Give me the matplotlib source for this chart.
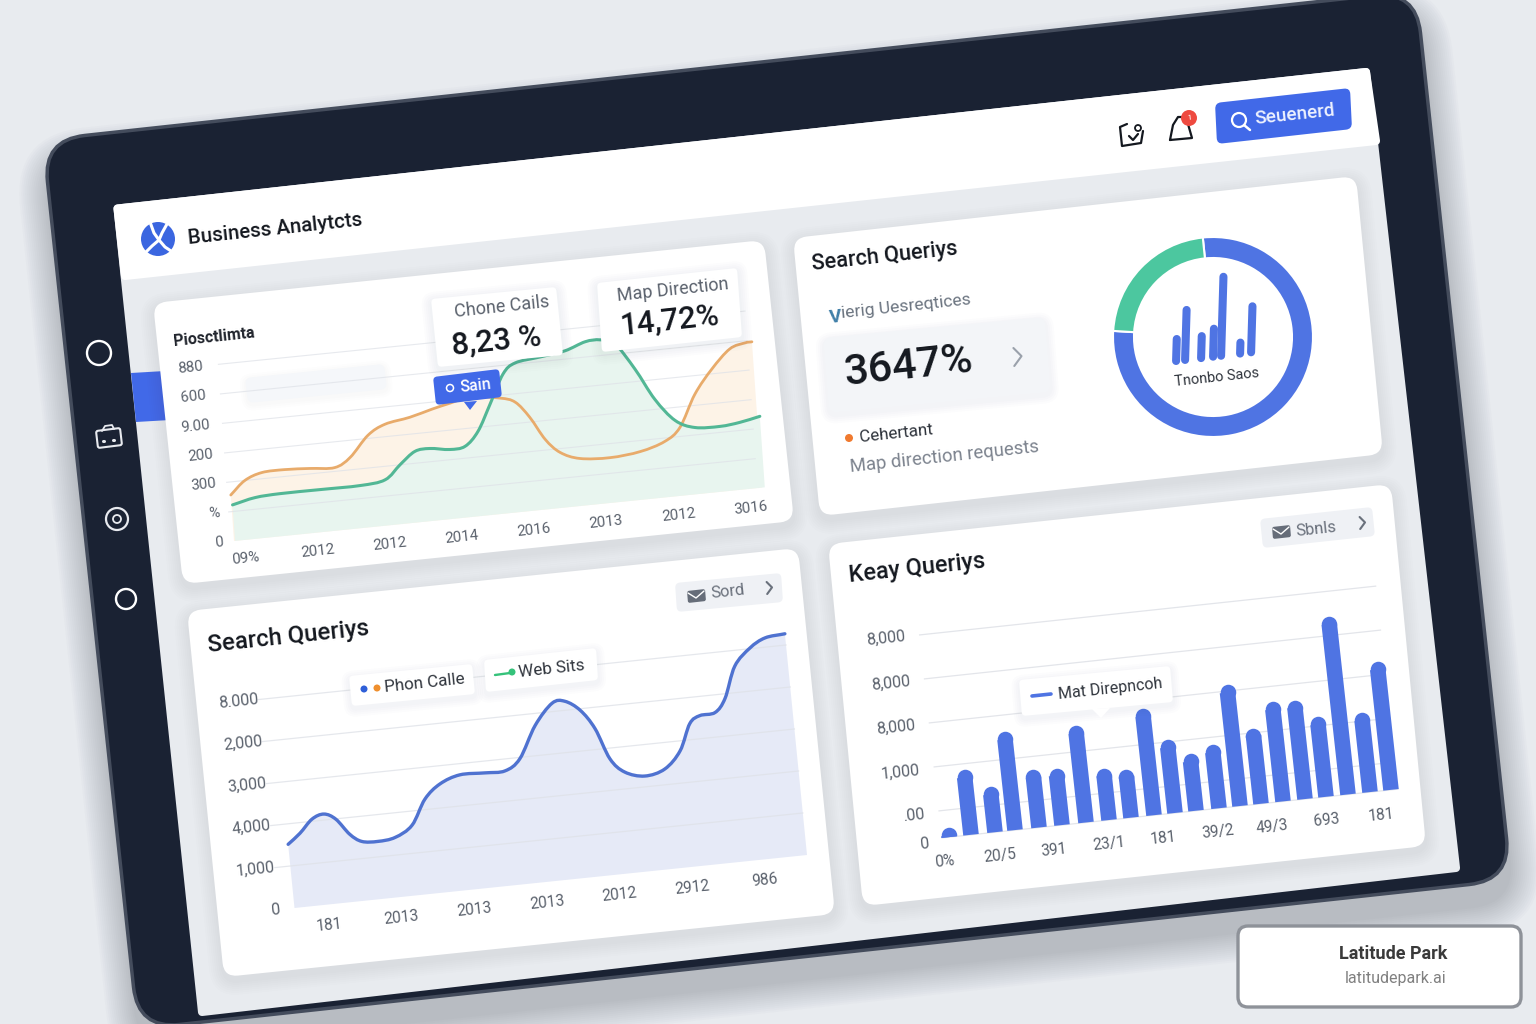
#!/usr/bin/python
import numpy as np
import matplotlib
matplotlib.use("Agg")
import matplotlib.pyplot as plt
from matplotlib.patches import FancyBboxPatch, Polygon, Circle, PathPatch
from matplotlib.path import Path
from matplotlib.transforms import Affine2D

plt.rcParams['font.family'] = ['Roboto', 'DejaVu Sans']

TILT = 6.1
OUTPUT_IMG = "out.png"

# top left chart
calls_x = [0, 2.8, 6.1, 10.4, 15.1, 19.7, 22.7, 26.3, 29.6, 34.3, 38.5, 42, 45.8, 51.3, 54.1, 56.6, 59.2, 61.8,
           65.4, 71, 76.7, 81.4, 84.4, 87.6, 91.1, 94.7, 97.6, 98.9]
calls_y = [230, 295, 326, 329, 322, 314, 357, 458, 504, 526, 555, 576, 596, 576, 548, 466, 348, 276,
           236, 225, 240, 278, 340, 497, 614, 705, 727, 729]
map_x = [0.2, 4.5, 9.2, 16.7, 24.2, 28.9, 31.9, 34.8, 37.6, 41.3, 44.2, 46.8, 49.4, 52.2, 54.6, 59.3, 64, 67.9,
         70.7, 73.4, 76.8, 80.1, 83.6, 87.2, 91.9, 95.6, 99.4]
map_y = [180, 205, 212, 212, 212, 228, 296, 354, 361, 346, 354, 422, 551, 694, 743, 760, 778, 813,
         815, 787, 652, 492, 377, 332, 325, 335, 355]
top_yticks = [0, 147, 295, 442, 590, 737, 885]
top_ylabels = ['0', '%', '300', '200', '9.00', '600', '880']
top_xlabels = ['09%', '2012', '2012', '2014', '2016', '2013', '2012', '3016']

# donut
donut_values = [77.6, 22.4]
mini_x = [0, 9, 25, 37, 45, 64, 75]
mini_h = [25, 53, 25, 31, 82, 14, 49]

# bottom left chart
search_x = [0, 2.5, 5.1, 7.5, 9.7, 12.1, 14.3, 17.4, 20.8, 24.3, 27.3, 30.5, 34.5, 39.4, 43.3, 46.4, 50, 53.7,
            56.2, 59, 61.5, 63.8, 66.4, 70.2, 74.2, 77.5, 79.9, 82, 85, 87.2, 89.7, 93, 96.1, 100]
search_y = [1516, 1748, 2052, 2142, 1992, 1602, 1404, 1366, 1418, 1664, 2249, 2570, 2735, 2720, 2718, 2968, 3715, 4198,
            4213, 3963, 3496, 2747, 2399, 2256, 2373, 2763, 3382, 3546, 3582, 3891, 4627, 5019, 5219, 5267]
search_yticks = [0, 1000, 2000, 3000, 4000, 5000]
search_ylabels = ['0', '1,000', '4,000', '3,000', '2,000', '8.000']
search_xlabels = ['181', '2013', '2013', '2013', '2012', '2912', '986']

# bottom right chart
key_x = [8, 30, 54, 74, 98, 121, 145, 168, 190, 213, 234, 255, 278, 299, 320, 342, 364, 385, 407, 429, 450]
key_y = [205, 1456, 1016, 2204, 1292, 1281, 2169, 1168, 1092, 2387, 1640, 1274, 1422, 2719, 1701, 2234, 2225,
         1793, 3989, 1778, 2874]
key_grid = [607, 1595, 2584, 3573, 4561]
key_yticks = [-90, 560, 1560, 2560, 3560, 4560]
key_ylabels = ['0', '.00', '1,000', '8,000', '8,000', '8,000']
key_xlabels = ['0%', '20/5', '391', '23/1', '181', '39/2', '49/3', '693', '181']

BLUE = '#4f74e3'
INK = '#14181f'
GREY = '#5b626d'

fig = plt.figure(figsize=(15.36, 10.24), dpi=100)
fig.patch.set_facecolor('#e8ebef')
ax = fig.add_axes([0, 0, 1, 1])
ax.set_axis_off()


def card(tl, tr, bl, radius, color, z, shadow=0, offset=5, edge='none', lw=0, shadow_alpha=0.012):
    w = np.hypot(tr[0] - tl[0], tr[1] - tl[1])
    h = np.hypot(bl[0] - tl[0], bl[1] - tl[1])
    m = np.array([[(tr[0] - tl[0]) / w, (bl[0] - tl[0]) / h, tl[0]],
                  [(tr[1] - tl[1]) / w, (bl[1] - tl[1]) / h, tl[1]],
                  [0, 0, 1]])
    trans = Affine2D(m) + ax.transData
    for i in range(shadow, 0, -2):
        ax.add_patch(FancyBboxPatch((-i, -i + offset), w + 2 * i, h + 2 * i,
                                    boxstyle="round,pad=0,rounding_size=%f" % (radius + i),
                                    fc='#454c5a', ec='none', alpha=shadow_alpha, transform=trans, zorder=z - 0.1))
    p = FancyBboxPatch((0, 0), w, h, boxstyle="round,pad=0,rounding_size=%f" % radius,
                       fc=color, ec=edge, lw=lw, transform=trans, zorder=z)
    ax.add_patch(p)
    return p


def chart_frame(origin, xvec, yvec):
    m = np.array([[xvec[0], yvec[0], origin[0]], [xvec[1], yvec[1], origin[1]], [0, 0, 1]])
    return Affine2D(m) + ax.transData


def smooth_path(x, y, closed=False):
    # bezier through the read points, so the curve does not show corners
    p = np.column_stack([x, y]).astype(float)
    m = np.gradient(p, axis=0)
    verts = [p[0]]
    codes = [Path.MOVETO]
    for i in range(len(p) - 1):
        verts += [p[i] + m[i] / 3, p[i + 1] - m[i + 1] / 3, p[i + 1]]
        codes += [Path.CURVE4] * 3
    if closed:
        verts += [(x[-1], 0), (x[0], 0), p[0]]
        codes += [Path.LINETO, Path.LINETO, Path.CLOSEPOLY]
    return Path(verts, codes)


def curve(x, y, color, lw, trans, z):
    ax.add_patch(PathPatch(smooth_path(x, y), fc='none', ec=color, lw=lw, capstyle='round',
                           joinstyle='round', transform=trans, zorder=z))


def area(x, y, color, trans, z):
    ax.add_patch(PathPatch(smooth_path(x, y, closed=True), fc=color, ec='none', transform=trans, zorder=z))


def label(x, y, s, size, color=INK, weight='normal', ha='center', z=12, trans=None, rot=TILT):
    kw = {}
    if trans is not None:
        kw['transform'] = trans
    ax.text(x, y, s, fontsize=size * 0.72, color=color, fontweight=weight, ha=ha, va='center',
            rotation=rot, rotation_mode='anchor', zorder=z, **kw)


def stroke(xs, ys, color, lw, z=12):
    ax.plot(xs, ys, color=color, lw=lw, solid_capstyle='round', solid_joinstyle='round', zorder=z)


def ring(x, y, r, color, lw=1.6, z=12, fc='none'):
    ax.add_patch(Circle((x, y), r, fc=fc, ec=color, lw=lw, zorder=z))


def chevron(x, y, s, color):
    stroke([x - s * 0.4, x + s * 0.5, x - s * 0.3], [y - s, y - s * 0.1, y + s], color, 1.5)


def chip(tl, tr, bl, icon, text, text_xy, chev):
    card(tl, tr, bl, 5, '#eff1f5', 9)
    card((icon[0] - 9, icon[1] - 5), (icon[0] + 9, icon[1] - 7), (icon[0] - 8, icon[1] + 7), 2, '#666d79', 10)
    stroke([icon[0] - 8, icon[0], icon[0] + 8], [icon[1] - 3, icon[1] + 2, icon[1] - 5], 'white', 1.0)
    label(text_xy[0], text_xy[1], text, 16.5, color='#6a717c')
    chevron(chev[0], chev[1], 6, '#6a717c')


# tablet body and screen
card((43, 140), (1416, -9), (138, 1029), 42, '#1a2233', 2, shadow=30, offset=22, edge='#444c5c', lw=2.5,
     shadow_alpha=0.02)
ax.add_patch(Polygon([(117.5, 208.5), (1366, 72), (1456, 868), (202, 1012)], fc='#e8ebef', ec='#e8ebef',
                     lw=5.8, joinstyle='round', zorder=3))
ax.add_patch(Polygon([(117.5, 208.5), (1366, 72), (1376, 141), (125, 276)], fc='white', ec='white',
                     lw=5.8, joinstyle='round', zorder=4))
ax.add_patch(Polygon([(131, 373), (165, 371), (170, 420), (136, 422)], fc='#4169e8', ec='none', zorder=3.5))

# side icons
ring(99, 353, 12, 'white', 1.7)
ring(126, 599, 10, 'white', 1.7)
ring(117, 519, 11, '#e8eaef', 1.6)
ring(117, 519, 4, '#e8eaef', 1.3)
card((96, 431), (120, 428), (98, 448), 2, '#1a2233', 11, edge='#e8eaef', lw=1.5)
stroke([102, 105, 112, 114], [431, 426, 425, 429], '#e8eaef', 1.3)
stroke([103, 103.5], [441, 441], '#e8eaef', 2.2)
stroke([113, 113.5], [440, 440], '#e8eaef', 2.2)

# logo and header
ring(158, 239, 17, 'none', 0, fc='#3b66e0')
stroke([150, 154, 159, 162, 167], [222, 233, 240, 233, 224], 'white', 2.2)
stroke([146, 152, 159, 165, 171], [252, 246, 240, 247, 251], 'white', 2.2)
label(275, 229, 'Business Analytcts', 20.5, weight='medium')
card((1215, 103), (1350, 88), (1217, 144), 6, '#4169e8', 6)
ring(1239, 120, 7, 'white', 1.6)
stroke([1244, 1250], [125, 130], 'white', 1.8)
label(1295, 115, 'Seuenerd', 19, color='#eef2ff', weight='medium')
stroke([1170, 1173, 1178, 1186, 1192, 1170], [140, 125, 117, 117, 138, 140], INK, 1.6)
ring(1189, 118, 8, 'none', 0, fc='#ee4a40')
label(1189, 118, '1', 8, color='white')
stroke([1127, 1120, 1122, 1141, 1143], [124, 127, 146, 143, 131], INK, 1.6)
stroke([1129, 1133, 1138], [136, 140, 134], INK, 1.6)
ring(1138, 128, 3, INK, 1.3)

# panels
card((153, 303), (764, 240), (183, 584), 14, 'white', 5, shadow=14)
card((793, 238), (1356, 176), (820, 516), 14, 'white', 5, shadow=14)
card((187, 611), (798, 548), (224, 977), 14, 'white', 5, shadow=14)
card((828, 544), (1391, 484), (863, 906), 14, 'white', 5, shadow=14)

# top left chart
tr1 = chart_frame((234, 541), (5.34, -0.54), (-0.014, -0.2))
card((245, 378), (384, 364), (248, 403), 6, '#f5f7fa', 5.5, shadow=6, offset=2, shadow_alpha=0.006)
area(calls_x, calls_y, '#fdf3e7', tr1, 6)
area(map_x, map_y, '#e8f5ef', tr1, 6.2)
for v in top_yticks[1:]:
    ax.plot([-0.6, 98], [v, v], color='#dfe2e8', lw=0.8, alpha=0.75, transform=tr1, zorder=6.5)
curve(calls_x, calls_y, '#e8ab6b', 2.0, tr1, 8)
curve(map_x, map_y, '#52b795', 2.2, tr1, 8.2)
for v, s in zip(top_yticks, top_ylabels):
    label(-2 - v * 0.0017, v, s, 15, color=GREY, ha='right', trans=tr1)
for i, s in enumerate(top_xlabels):
    label(2 + i * 13.49, -95, s, 15, color=GREY, trans=tr1)
label(214, 337, 'Piosctlimta', 16, weight='bold', color='#20242c')

card((431, 299), (556, 287), (438, 367), 4, 'white', 9, shadow=10, offset=3, shadow_alpha=0.01)
label(502, 307, 'Chone Cails', 18, color=GREY)
label(496, 341, '8,23 %', 31, weight='medium')
card((597, 283), (737, 268), (602, 352), 4, 'white', 9, shadow=10, offset=3, shadow_alpha=0.01)
label(673, 290, 'Map Direction', 18, color=GREY)
label(670, 321, '14,72%', 31, weight='medium')
card((433, 377), (499, 369), (436, 405), 4, '#4169e8', 10)
ax.add_patch(Polygon([(464, 402), (477, 401), (470, 410)], fc='#4169e8', ec='none', zorder=10))
label(476, 386, 'Sain', 16, color='white', weight='medium')
ring(450, 388, 3.5, 'white', 1.1)

# top right panel
label(885, 257, 'Search Queriys', 21.8, weight='medium')
label(829, 318, 'V', 19, color='#3f7fa8', weight='bold', ha='left')
label(841, 314, 'ierig Uesreqtices', 17.5, color='#6b7480', ha='left')
card((823, 338), (1045, 317), (829, 413), 8, '#f3f5f8', 6, shadow=8, offset=3, shadow_alpha=0.01)
label(908, 367, '3647%', 43, weight='medium')
chevron(1017, 357, 9, '#9aa1ab')
ring(849, 438, 4, 'none', 0, fc='#f07a2f')
label(896, 434, 'Cehertant', 17, color='#2d323a')
label(945, 457, 'Map direction requests', 18.5, color='#7c838e')

donut_ax = fig.add_axes([(1213 - 125) / 1536, 1 - (337 + 125) / 1024, 250 / 1536, 250 / 1024])
donut_ax.pie(donut_values, colors=[BLUE, '#4cc79f'], startangle=176.5, radius=1.0, counterclock=True,
             wedgeprops={'width': 0.21, 'edgecolor': 'white', 'linewidth': 1.5})
donut_ax.set_xlim(-1.25, 1.25)
donut_ax.set_ylim(-1.25, 1.25)

tr_mini = chart_frame((1176, 364), (1, -0.116), (0.03, -1))
ax.vlines(mini_x, 3, mini_h, colors=BLUE, linewidth=5.8, capstyle='round', transform=tr_mini, zorder=8)
label(1217, 378, 'Tnonbo Saos', 14.5, color='#30353d')

# bottom left chart
tr3 = chart_frame((294.5, 908), (5.125, -0.53), (-0.0042, -0.042))
area(search_x, search_y, '#e6eaf7', tr3, 6)
for v in search_yticks[1:]:
    ax.plot([-3, 100], [v, v], color='#dfe2e8', lw=0.9, alpha=0.8, transform=tr3, zorder=6.5)
curve(search_x, search_y, '#4f72d0', 2.4, tr3, 8)
for v, s in zip(search_yticks, search_ylabels):
    label(-3, v, s, 16, color=GREY, ha='right', trans=tr3)
for i, s in enumerate(search_xlabels):
    label(6.3 + i * 14.18, -480, s, 15.5, color=GREY, trans=tr3)
label(288, 637, 'Search Queriys', 24, weight='medium')
card((349, 676), (472, 664), (352, 706), 4, 'white', 9, shadow=8, offset=3, shadow_alpha=0.012)
ring(364, 689, 3.5, 'none', 0, fc='#2f5fd8', z=11)
ring(377, 688, 3.5, 'none', 0, fc='#ef8f2e', z=11)
label(425, 683, 'Phon Calle', 17, color='#30353d')
card((484, 660), (596, 648), (486, 692), 4, 'white', 9, shadow=8, offset=3, shadow_alpha=0.012)
stroke([495, 510], [675, 673], '#35c27a', 1.7)
ring(512, 672, 3.5, 'none', 0, fc='#35c27a', z=12)
label(552, 669, 'Web Sits', 17, color='#30353d')
chip((675, 583), (781, 573), (677, 612), (696, 596), 'Sord', (728, 592), (769, 588))

# bottom right chart
tr4 = chart_frame((941, 838), (1, -0.107), (-0.0049, -0.0445))
for v in [0] + key_grid:
    ax.plot([1, 457], [v, v], color='#e3e5ea', lw=0.9, transform=tr4, zorder=6)
cap = np.array(key_y) - 168
ax.bar(key_x, cap, width=15.5, color=BLUE, lw=0, transform=tr4, zorder=8)
tops = ax.scatter(key_x, cap, s=(15.5 * 0.72) ** 2, color=BLUE, lw=0, transform=tr4, zorder=8)
tops.set_clip_path(Polygon([(-20, 0), (480, 0), (480, 6000), (-20, 6000)], transform=tr4))
for v, s in zip(key_yticks, key_ylabels):
    label(-13, v, s, 16, color=GREY, ha='right', trans=tr4)
for i, s in enumerate(key_xlabels):
    label(1.4 + i * 54.5, -530, s, 15.5, color=GREY, trans=tr4)
label(917, 568, 'Keay Queriys', 23.5, weight='medium')
card((1019, 680), (1170, 666), (1022, 716), 4, 'white', 9, shadow=8, offset=3, shadow_alpha=0.012)
ax.add_patch(Polygon([(1092, 709), (1110, 708), (1101, 718)], fc='white', ec='none', zorder=9))
stroke([1032, 1051], [696, 694], BLUE, 2.6)
label(1110, 689, 'Mat Direpncoh', 16, color='#30353d')
chip((1260, 519), (1372, 507), (1263, 548), (1281, 532), 'Sbnls', (1316, 529), (1362, 523))

# badge in the corner
card((1238, 926), (1521, 926), (1238, 1007), 10, 'white', 20, edge='#8e9299', lw=2.4)
label(1393, 954, 'Latitude Park', 18, color='#3a3a3a', weight='bold', z=21, rot=0)
label(1396, 978, 'latitudepark.ai', 16, color='#808080', z=21, rot=0)

ax.set_xlim(0, 1536)
ax.set_ylim(1024, 0)
fig.savefig(OUTPUT_IMG, dpi=100, facecolor=fig.get_facecolor())
